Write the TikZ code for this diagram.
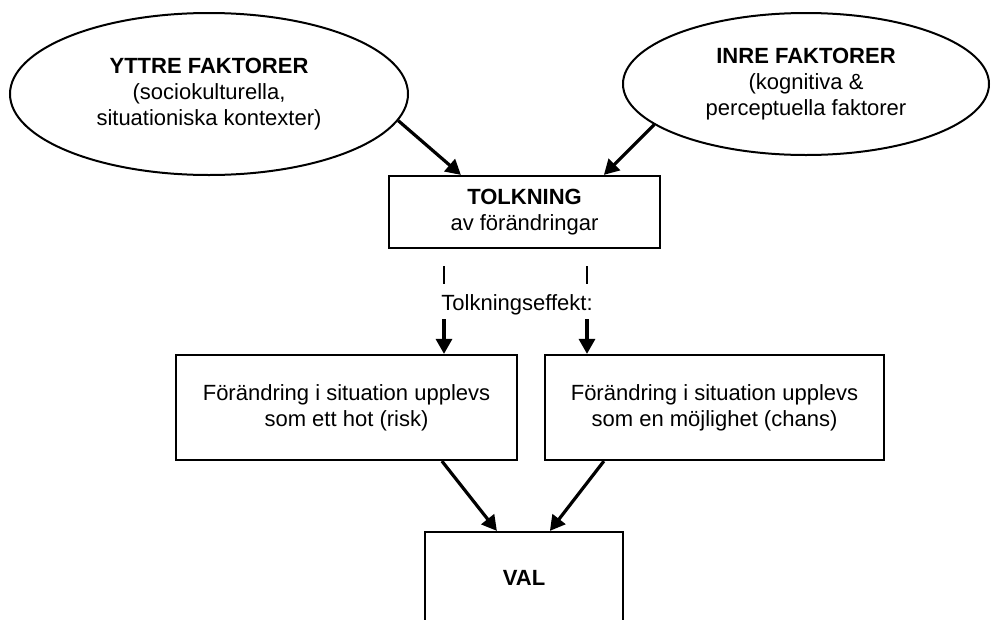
\documentclass[tikz,border=0pt]{standalone}
\usepackage{fontspec}
\setmainfont{Liberation Sans}
\usetikzlibrary{shapes.geometric,arrows.meta,calc}
\begin{document}
\begin{tikzpicture}[x=1pt,y=-1pt,
  every node/.style={font=\fontsize{22}{26}\selectfont, align=center, inner sep=0pt},
  factor/.style={ellipse, draw, line width=2pt},
  stepbox/.style={rectangle, draw, line width=2.2pt},
  flow/.style={line width=3.2pt, -{Triangle[length=15pt,width=16pt]}},
  tick/.style={line width=1.6pt}]
\useasboundingbox (0,0) rectangle (991,619);

% influencing factors
\node[factor, minimum width=398pt, minimum height=162pt] (yttre) at (209,94)
  {\textbf{YTTRE FAKTORER}\\(sociokulturella,\\situationiska kontexter)};
\node[factor, minimum width=366pt, minimum height=142pt] (inre) at (806,84)
  {\textbf{INRE FAKTORER}\\(kognitiva \&\\perceptuella faktorer};

% interpretation
\node[stepbox, minimum width=271pt, minimum height=72pt] (tolk) at (524.5,212)
  {\textbf{TOLKNING}\\av förändringar};

% interpretation effect
\coordinate (ta) at (444,266);
\coordinate (tb) at (444,284);
\coordinate (tc) at (587,266);
\coordinate (td) at (587,284);
\draw[tick] (ta) -- (tb);
\draw[tick] (tc) -- (td);
\node (eff) at (517,305) {Tolkningseffekt:};
\coordinate (ea) at (444,319);
\coordinate (eb) at (587,319);

% outcomes
\node[stepbox, minimum width=341pt, minimum height=105pt] (risk) at (346.5,407.5)
  {Förändring i situation upplevs\\som ett hot (risk)};
\node[stepbox, minimum width=339pt, minimum height=105pt] (chans) at (714.5,407.5)
  {Förändring i situation upplevs\\som en möjlighet (chans)};

% choice
\node[stepbox, minimum width=198pt, minimum height=92pt] (val) at (524,578)
  {\textbf{VAL}};

% connectors
\draw[flow] (yttre.-8) -- ($(tolk.north west)+(73,0)$);
\draw[flow] (inre.195) -- ($(tolk.north west)+(216,0)$);
\draw[flow] (ea) -- (risk.north -| ea);
\draw[flow] (eb) -- (chans.north -| eb);
\draw[flow] ($(risk.south west)+(267,0)$) -- ($(val.north west)+(73,0)$);
\draw[flow] ($(chans.south west)+(60,0)$) -- ($(val.north west)+(126,0)$);
\end{tikzpicture}
\end{document}
